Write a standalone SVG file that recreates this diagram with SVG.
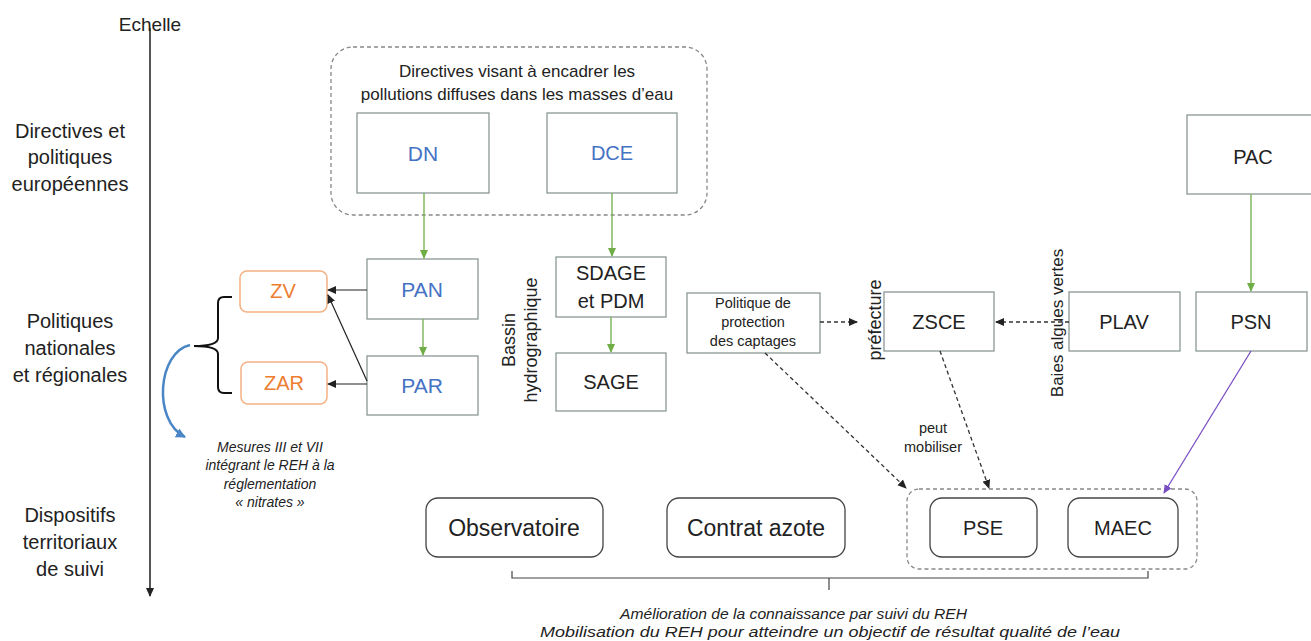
<svg xmlns="http://www.w3.org/2000/svg" width="1311" height="641" viewBox="0 0 1311 641">
<style>
text{font-family:"Liberation Sans",Arial,sans-serif;fill:#222}
.box{fill:#fff;stroke:#8a9896;stroke-width:1.3}
.rbox{fill:#fff;stroke:#444;stroke-width:1.3}
.obox{fill:#fff;stroke:#f4b183;stroke-width:1.5}
.dash{fill:none;stroke:#888;stroke-width:1.3;stroke-dasharray:4 3}
.blue{fill:#4472c4}
.orange{fill:#ed7d31}
.nd{font-size:20px}
.it{font-style:italic;font-size:14px}
.g{stroke:#70ad47;stroke-width:1.3;fill:none}
.k{stroke:#222;stroke-width:1.2;fill:none}
.kd{stroke:#333;stroke-width:1.3;fill:none;stroke-dasharray:4 3}
</style>
<defs>
<marker id="ag" markerWidth="10" markerHeight="10" refX="8" refY="5" orient="auto" markerUnits="userSpaceOnUse"><path d="M0,1 L9,5 L0,9 Z" fill="#70ad47"/></marker>
<marker id="ak" markerWidth="10" markerHeight="10" refX="8" refY="5" orient="auto" markerUnits="userSpaceOnUse"><path d="M0,1 L9,5 L0,9 Z" fill="#222"/></marker>
<marker id="ap" markerWidth="10" markerHeight="10" refX="8" refY="5" orient="auto" markerUnits="userSpaceOnUse"><path d="M0,1 L9,5 L0,9 Z" fill="#7b4fc4"/></marker>
<marker id="ab" markerWidth="12" markerHeight="12" refX="9" refY="6" orient="auto" markerUnits="userSpaceOnUse"><path d="M0,1 L10,6 L0,11 Z" fill="#4a86c5"/></marker>
</defs>

<g id="axis">
<line x1="150" y1="28" x2="150" y2="596" stroke="#555" stroke-width="2" marker-end="url(#ak)"/>
<text x="150" y="31" text-anchor="middle" font-size="19">Echelle</text>
</g>
<g id="levels">
<text text-anchor="middle" font-size="20"><tspan x="70" y="138">Directives et</tspan><tspan x="70" y="164">politiques</tspan><tspan x="70" y="191">européennes</tspan></text>
<text text-anchor="middle" font-size="20"><tspan x="70" y="328">Politiques</tspan><tspan x="70" y="355">nationales</tspan><tspan x="70" y="382">et régionales</tspan></text>
<text text-anchor="middle" font-size="20"><tspan x="70" y="522">Dispositifs</tspan><tspan x="70" y="549">territoriaux</tspan><tspan x="70" y="576">de suivi</tspan></text>
</g>

<g id="group-directives">
<rect class="dash" x="331" y="47" width="376" height="168" rx="22"/>
<text x="517" y="77" text-anchor="middle" font-size="17">Directives visant à encadrer les</text>
<text x="517" y="100" text-anchor="middle" font-size="17">pollutions diffuses dans les masses d’eau</text>
</g>
<g id="DN"><rect class="box" x="357" y="113" width="132" height="80"/><text class="blue" font-size="21" x="423" y="161" text-anchor="middle">DN</text></g>
<g id="DCE"><rect class="box" x="547" y="113" width="130" height="80"/><text class="blue" font-size="20" x="612" y="160" text-anchor="middle">DCE</text></g>
<g id="PAC"><rect class="box" x="1187" y="115" width="130" height="79"/><text class="nd" x="1253" y="164" text-anchor="middle">PAC</text></g>

<g id="PAN"><rect class="box" x="367" y="259" width="111" height="60"/><text class="blue" font-size="21" x="422" y="297" text-anchor="middle">PAN</text></g>
<g id="PAR"><rect class="box" x="367" y="356" width="111" height="59"/><text class="blue" font-size="21" x="422" y="393" text-anchor="middle">PAR</text></g>
<g id="ZV"><rect class="obox" x="240" y="271" width="87" height="41" rx="7"/><text class="nd orange" x="283" y="298" text-anchor="middle">ZV</text></g>
<g id="ZAR"><rect class="obox" x="241" y="362" width="86" height="42" rx="7"/><text class="nd orange" x="284" y="390" text-anchor="middle">ZAR</text></g>

<g id="SDAGE"><rect class="box" x="556" y="257" width="110" height="60"/><text class="nd" x="611" y="280" text-anchor="middle">SDAGE</text><text class="nd" x="611" y="308" text-anchor="middle">et PDM</text></g>
<g id="SAGE"><rect class="box" x="556" y="353" width="110" height="58"/><text class="nd" x="611" y="389" text-anchor="middle">SAGE</text></g>
<g id="bassin-label">
<text transform="rotate(-90 515 340)" x="515" y="340" text-anchor="middle" font-size="18">Bassin</text>
<text transform="rotate(-90 537 340)" x="537" y="340" text-anchor="middle" font-size="18">hydrographique</text>
</g>

<g id="captages"><rect class="box" x="687" y="293" width="133" height="60"/>
<text text-anchor="middle" font-size="14.5"><tspan x="753" y="308">Politique de</tspan><tspan x="753" y="327">protection</tspan><tspan x="753" y="346">des captages</tspan></text></g>
<text id="prefecture" transform="rotate(-90 881 320)" x="881" y="320" text-anchor="middle" font-size="18">préfecture</text>
<g id="ZSCE"><rect class="box" x="884" y="292" width="110" height="59"/><text class="nd" x="939" y="329" text-anchor="middle">ZSCE</text></g>
<text id="baies" transform="rotate(-90 1063 323)" x="1063" y="323" text-anchor="middle" font-size="17">Baies algues vertes</text>
<g id="PLAV"><rect class="box" x="1069" y="292" width="111" height="59"/><text class="nd" x="1124" y="329" text-anchor="middle">PLAV</text></g>
<g id="PSN"><rect class="box" x="1196" y="292" width="111" height="59"/><text class="nd" x="1251" y="329" text-anchor="middle">PSN</text></g>

<g id="mesures">
<text class="it" text-anchor="middle"><tspan x="270" y="452">Mesures III et VII</tspan><tspan x="270" y="470">intégrant le REH à la</tspan><tspan x="270" y="489">réglementation</tspan><tspan x="270" y="507">« nitrates »</tspan></text>
</g>
<text id="peut" text-anchor="middle" font-size="14.5"><tspan x="933" y="433">peut</tspan><tspan x="933" y="452">mobiliser</tspan></text>

<g id="Observatoire"><rect class="rbox" x="426" y="498" width="177" height="59" rx="12"/><text x="514" y="536" text-anchor="middle" font-size="23">Observatoire</text></g>
<g id="Contrat"><rect class="rbox" x="667" y="498" width="178" height="59" rx="12"/><text x="756" y="536" text-anchor="middle" font-size="23">Contrat azote</text></g>
<g id="group-pse"><rect class="dash" x="907" y="489" width="290" height="80" rx="12"/></g>
<g id="PSE"><rect class="rbox" x="930" y="498" width="107" height="59" rx="12"/><text x="983" y="535" text-anchor="middle" font-size="20">PSE</text></g>
<g id="MAEC"><rect class="rbox" x="1068" y="498" width="110" height="59" rx="12"/><text x="1123" y="535" text-anchor="middle" font-size="20">MAEC</text></g>

<g id="bottom-note">
<text class="it" font-size="15" x="620" y="619" textLength="347" lengthAdjust="spacingAndGlyphs">Amélioration de la connaissance par suivi du REH</text>
<text class="it" font-size="15" x="540" y="637" textLength="580" lengthAdjust="spacingAndGlyphs">Mobilisation du REH pour atteindre un objectif de résultat qualité de l’eau</text>
</g>

<g id="connectors">
<line class="g" x1="424" y1="193" x2="424" y2="258" marker-end="url(#ag)"/>
<line class="g" x1="612" y1="193" x2="612" y2="256" marker-end="url(#ag)"/>
<line class="g" x1="423" y1="319" x2="423" y2="355" marker-end="url(#ag)"/>
<line class="g" x1="611" y1="317" x2="611" y2="352" marker-end="url(#ag)"/>
<line class="g" x1="1251" y1="194" x2="1251" y2="291" marker-end="url(#ag)"/>
<line class="k" x1="367" y1="290" x2="328" y2="290" marker-end="url(#ak)"/>
<line class="k" x1="367" y1="384" x2="328" y2="384" marker-end="url(#ak)"/>
<line class="k" x1="367" y1="381" x2="328" y2="295" marker-end="url(#ak)"/>
<line class="kd" x1="820" y1="322" x2="857" y2="322" marker-end="url(#ak)"/>
<line class="kd" x1="1069" y1="322" x2="996" y2="322" marker-end="url(#ak)"/>
<line class="kd" x1="765" y1="353" x2="906" y2="488" marker-end="url(#ak)"/>
<line class="kd" x1="940" y1="351" x2="989" y2="488" marker-end="url(#ak)"/>
<line x1="1251" y1="351" x2="1164" y2="493" stroke="#7b4fc4" stroke-width="1.3" marker-end="url(#ap)"/>
<path d="M232,297 H224 Q218,297 218,303 V338 Q218,346 194,346 Q218,346 218,354 V387 Q218,393 224,393 H232" fill="none" stroke="#111" stroke-width="2"/>
<path d="M190,345 C158,352 152,420 185,437" fill="none" stroke="#4a86c5" stroke-width="2.5" marker-end="url(#ab)"/>
<path d="M512,571 V578 H1148 V571 M829,578 V590" fill="none" stroke="#444" stroke-width="1.2"/>
</g>
</svg>
